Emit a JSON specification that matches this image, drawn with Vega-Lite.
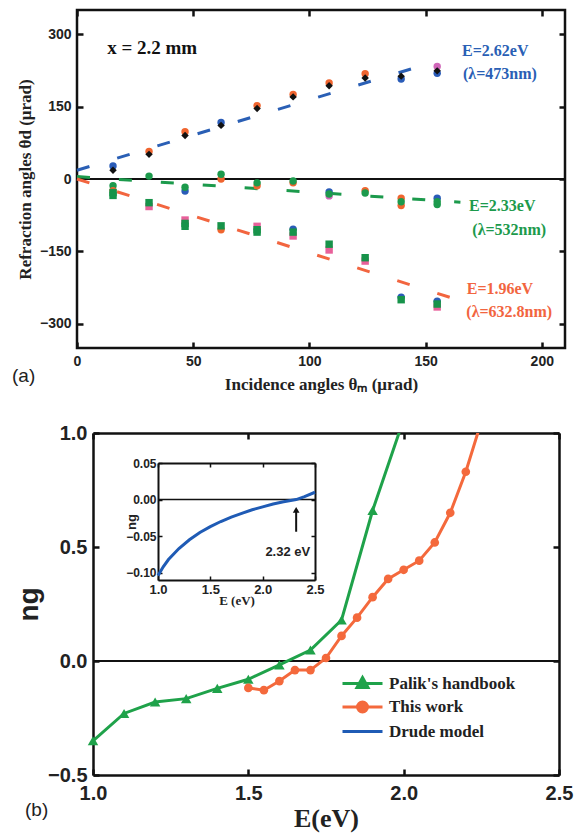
{
  "$schema": "https://vega.github.io/schema/vega-lite/v6.json",
  "background": "white",
  "padding": {"left": 10, "top": 7, "right": 5, "bottom": 5},
  "spacing": 22,
  "resolve": {"scale": {"color": "independent", "shape": "independent"}},
  "config": {
    "view": {"stroke": "#111", "strokeWidth": 2.5},
    "axis": {
      "domain": false, "grid": false, "tickColor": "#111", "tickWidth": 2.5, "tickSize": -6,
      "labelFont": "Liberation Sans", "labelFontWeight": "bold", "labelColor": "#222", "labelFlush": false,
      "titleFont": "Liberation Serif", "titleFontWeight": "bold", "titleColor": "#222"
    },
    "text": {"font": "Liberation Serif", "fontWeight": "bold"}
  },
  "datasets": {
    "linesA": [
      {"series": "E=2.62eV", "x": 0, "y": 18}, {"series": "E=2.62eV", "x": 148, "y": 234},
      {"series": "E=2.33eV", "x": 0, "y": 5}, {"series": "E=2.33eV", "x": 165, "y": -48},
      {"series": "E=1.96eV", "x": 0, "y": 0}, {"series": "E=1.96eV", "x": 165, "y": -252}
    ],
    "labelsA": [
      {"x": 180, "y": 265, "label": "E=2.62eV", "series": "E=2.62eV"},
      {"x": 182, "y": 218, "label": "(λ=473nm)", "series": "E=2.62eV"},
      {"x": 183, "y": -55, "label": "E=2.33eV", "series": "E=2.33eV"},
      {"x": 186, "y": -105, "label": "(λ=532nm)", "series": "E=2.33eV"},
      {"x": 182, "y": -228, "label": "E=1.96eV", "series": "E=1.96eV"},
      {"x": 186, "y": -275, "label": "(λ=632.8nm)", "series": "E=1.96eV"}
    ],
    "pointsA": [
      {"x": 15.5, "y": 27, "kind": "o-blue"}, {"x": 15.5, "y": 18, "kind": "d-black"},
      {"x": 31, "y": 57, "kind": "o-orange"}, {"x": 31, "y": 51, "kind": "d-black"},
      {"x": 46.5, "y": 98, "kind": "o-orange"}, {"x": 46.5, "y": 90, "kind": "d-black"},
      {"x": 62, "y": 117, "kind": "o-blue"}, {"x": 62, "y": 111, "kind": "d-black"},
      {"x": 77.5, "y": 152, "kind": "o-orange"}, {"x": 77.5, "y": 146, "kind": "d-black"},
      {"x": 93, "y": 175, "kind": "o-orange"}, {"x": 93, "y": 170, "kind": "d-black"},
      {"x": 108.5, "y": 199, "kind": "o-orange"}, {"x": 108.5, "y": 193, "kind": "d-black"},
      {"x": 124, "y": 218, "kind": "o-orange"}, {"x": 124, "y": 209, "kind": "d-black"},
      {"x": 139.5, "y": 207, "kind": "o-blue"}, {"x": 139.5, "y": 213, "kind": "d-black"},
      {"x": 155, "y": 233, "kind": "o-pink"}, {"x": 155, "y": 219, "kind": "o-blue"}, {"x": 155, "y": 224, "kind": "d-black"},
      {"x": 15.5, "y": -14, "kind": "o-green"},
      {"x": 31, "y": 6, "kind": "o-green"},
      {"x": 46.5, "y": -25, "kind": "o-blue"}, {"x": 46.5, "y": -17, "kind": "o-green"},
      {"x": 62, "y": 0, "kind": "o-orange"}, {"x": 62, "y": 10, "kind": "o-green"},
      {"x": 77.5, "y": -14, "kind": "o-orange"}, {"x": 77.5, "y": -8, "kind": "o-green"},
      {"x": 93, "y": -8, "kind": "o-orange"}, {"x": 93, "y": -4, "kind": "o-green"},
      {"x": 108.5, "y": -35, "kind": "o-pink"}, {"x": 108.5, "y": -27, "kind": "o-blue"}, {"x": 108.5, "y": -31, "kind": "o-green"},
      {"x": 124, "y": -24, "kind": "o-orange"}, {"x": 124, "y": -29, "kind": "o-green"},
      {"x": 139.5, "y": -55, "kind": "o-orange"}, {"x": 139.5, "y": -40, "kind": "o-orange"}, {"x": 139.5, "y": -47, "kind": "o-green"},
      {"x": 155, "y": -40, "kind": "o-blue"}, {"x": 155, "y": -53, "kind": "o-green"}, {"x": 155, "y": -47, "kind": "o-green"},
      {"x": 15.5, "y": -24, "kind": "o-orange"}, {"x": 15.5, "y": -28, "kind": "s-green"}, {"x": 15.5, "y": -34, "kind": "s-green"},
      {"x": 31, "y": -57, "kind": "s-pink"}, {"x": 31, "y": -49, "kind": "s-green"},
      {"x": 46.5, "y": -85, "kind": "s-pink"}, {"x": 46.5, "y": -92, "kind": "s-green"}, {"x": 46.5, "y": -98, "kind": "s-green"},
      {"x": 62, "y": -105, "kind": "o-orange"}, {"x": 62, "y": -97, "kind": "s-green"},
      {"x": 77.5, "y": -98, "kind": "s-pink"}, {"x": 77.5, "y": -105, "kind": "s-green"}, {"x": 77.5, "y": -110, "kind": "s-green"},
      {"x": 93, "y": -118, "kind": "s-pink"}, {"x": 93, "y": -104, "kind": "o-blue"}, {"x": 93, "y": -110, "kind": "s-green"},
      {"x": 108.5, "y": -147, "kind": "s-pink"}, {"x": 108.5, "y": -135, "kind": "s-green"},
      {"x": 124, "y": -170, "kind": "s-pink"}, {"x": 124, "y": -163, "kind": "s-green"},
      {"x": 139.5, "y": -245, "kind": "o-blue"}, {"x": 139.5, "y": -250, "kind": "s-green"},
      {"x": 155, "y": -265, "kind": "s-pink"}, {"x": 155, "y": -253, "kind": "o-blue"}, {"x": 155, "y": -259, "kind": "s-green"}
    ],
    "ngData": [
      {"E": 1.0, "ng": -0.35, "src": "Palik's handbook"},
      {"E": 1.1, "ng": -0.23, "src": "Palik's handbook"},
      {"E": 1.2, "ng": -0.18, "src": "Palik's handbook"},
      {"E": 1.3, "ng": -0.165, "src": "Palik's handbook"},
      {"E": 1.4, "ng": -0.12, "src": "Palik's handbook"},
      {"E": 1.5, "ng": -0.08, "src": "Palik's handbook"},
      {"E": 1.6, "ng": -0.017, "src": "Palik's handbook"},
      {"E": 1.7, "ng": 0.048, "src": "Palik's handbook"},
      {"E": 1.8, "ng": 0.18, "src": "Palik's handbook"},
      {"E": 1.9, "ng": 0.66, "src": "Palik's handbook"},
      {"E": 2.0, "ng": 1.06, "src": "Palik's handbook"},
      {"E": 1.5, "ng": -0.118, "src": "This work"},
      {"E": 1.55, "ng": -0.128, "src": "This work"},
      {"E": 1.6, "ng": -0.088, "src": "This work"},
      {"E": 1.65, "ng": -0.04, "src": "This work"},
      {"E": 1.7, "ng": -0.04, "src": "This work"},
      {"E": 1.75, "ng": 0.013, "src": "This work"},
      {"E": 1.8, "ng": 0.11, "src": "This work"},
      {"E": 1.85, "ng": 0.19, "src": "This work"},
      {"E": 1.9, "ng": 0.28, "src": "This work"},
      {"E": 1.95, "ng": 0.36, "src": "This work"},
      {"E": 2.0, "ng": 0.4, "src": "This work"},
      {"E": 2.05, "ng": 0.44, "src": "This work"},
      {"E": 2.1, "ng": 0.52, "src": "This work"},
      {"E": 2.15, "ng": 0.65, "src": "This work"},
      {"E": 2.2, "ng": 0.83, "src": "This work"},
      {"E": 2.25, "ng": 1.05, "src": "This work"}
    ],
    "drude": [
      {"E": 1.0, "ng": -0.104, "src": "Drude model"},
      {"E": 1.05, "ng": -0.092, "src": "Drude model"},
      {"E": 1.1, "ng": -0.082, "src": "Drude model"},
      {"E": 1.2, "ng": -0.067, "src": "Drude model"},
      {"E": 1.3, "ng": -0.055, "src": "Drude model"},
      {"E": 1.4, "ng": -0.045, "src": "Drude model"},
      {"E": 1.5, "ng": -0.037, "src": "Drude model"},
      {"E": 1.6, "ng": -0.030, "src": "Drude model"},
      {"E": 1.7, "ng": -0.024, "src": "Drude model"},
      {"E": 1.8, "ng": -0.019, "src": "Drude model"},
      {"E": 1.9, "ng": -0.014, "src": "Drude model"},
      {"E": 2.0, "ng": -0.010, "src": "Drude model"},
      {"E": 2.1, "ng": -0.006, "src": "Drude model"},
      {"E": 2.2, "ng": -0.003, "src": "Drude model"},
      {"E": 2.32, "ng": 0.0, "src": "Drude model"},
      {"E": 2.4, "ng": 0.004, "src": "Drude model"},
      {"E": 2.5, "ng": 0.010, "src": "Drude model"}
    ]
  },
  "vconcat": [
    {
      "width": 488,
      "height": 338,
      "title": {"text": "(a)", "orient": "bottom", "anchor": "start", "frame": "group", "dx": -65, "offset": -25, "font": "Liberation Sans", "fontWeight": "normal", "fontSize": 19, "color": "#222"},
      "resolve": {"axis": {"x": "independent", "y": "independent"}},
      "layer": [
        {
          "data": {"values": [{}]},
          "mark": {"type": "rule", "color": "#111", "strokeWidth": 2},
          "encoding": {"y": {"datum": 0, "type": "quantitative", "axis": null, "scale": {"domain": [-350, 350], "nice": false}}}
        },
        {
          "data": {"name": "linesA"},
          "mark": {"type": "line", "strokeWidth": 3, "strokeDash": [13, 29]},
          "encoding": {
            "x": {"field": "x", "type": "quantitative", "axis": null, "scale": {"domain": [0, 210], "nice": false}},
            "y": {"field": "y", "type": "quantitative", "axis": null, "scale": {"domain": [-350, 350], "nice": false}},
            "detail": {"field": "series"},
            "color": {"field": "series", "type": "nominal", "legend": null,
              "scale": {"domain": ["E=2.62eV", "E=2.33eV", "E=1.96eV", "o-orange", "o-blue", "o-green", "o-pink", "s-green", "s-pink", "d-black"],
                        "range": ["#2a5fb5", "#1c9a4c", "#f2653f", "#f0652f", "#2a5cb8", "#1c9a4c", "#d066b8", "#17934a", "#e8609a", "#111111"]}}
          }
        },
        {
          "data": {"name": "pointsA"},
          "mark": {"type": "point", "filled": true, "opacity": 1, "size": 55},
          "encoding": {
            "x": {"field": "x", "type": "quantitative", "scale": {"domain": [0, 210], "nice": false},
              "axis": {"orient": "bottom", "values": [0, 50, 100, 150, 200], "labelFontSize": 14, "labelPadding": 12,
                       "title": "Incidence angles θₘ (μrad)", "titleFontSize": 17, "titlePadding": 8}},
            "y": {"field": "y", "type": "quantitative", "scale": {"domain": [-350, 350], "nice": false},
              "axis": {"orient": "left", "values": [-300, -150, 0, 150, 300], "labelFontSize": 14, "labelPadding": 12,
                       "title": "Refraction angles θd (μrad)", "titleFontSize": 17, "titlePadding": 5}},
            "color": {"field": "kind", "type": "nominal", "legend": null,
              "scale": {"domain": ["E=2.62eV", "E=2.33eV", "E=1.96eV", "o-orange", "o-blue", "o-green", "o-pink", "s-green", "s-pink", "d-black"],
                        "range": ["#2a5fb5", "#1c9a4c", "#f2653f", "#f0652f", "#2a5cb8", "#1c9a4c", "#d066b8", "#17934a", "#e8609a", "#111111"]}},
            "shape": {"field": "kind", "type": "nominal", "legend": null,
              "scale": {"domain": ["o-orange", "o-blue", "o-green", "o-pink", "s-green", "s-pink", "d-black"],
                        "range": ["circle", "circle", "circle", "circle", "square", "square", "diamond"]}}
          }
        },
        {
          "data": {"name": "labelsA"},
          "mark": {"type": "text", "fontSize": 16, "align": "center", "baseline": "middle"},
          "encoding": {
            "x": {"field": "x", "type": "quantitative", "axis": null, "scale": {"domain": [0, 210], "nice": false}},
            "y": {"field": "y", "type": "quantitative", "axis": null, "scale": {"domain": [-350, 350], "nice": false}},
            "text": {"field": "label"},
            "color": {"field": "series", "type": "nominal", "legend": null,
              "scale": {"domain": ["E=2.62eV", "E=2.33eV", "E=1.96eV", "o-orange", "o-blue", "o-green", "o-pink", "s-green", "s-pink", "d-black"],
                        "range": ["#2a5fb5", "#1c9a4c", "#f2653f", "#f0652f", "#2a5cb8", "#1c9a4c", "#d066b8", "#17934a", "#e8609a", "#111111"]}}
          }
        },
        {
          "data": {"values": [{}]},
          "mark": {"type": "text", "fontSize": 19, "align": "left", "baseline": "middle", "color": "#111"},
          "encoding": {
            "x": {"datum": 13, "type": "quantitative", "axis": null},
            "y": {"datum": 271, "type": "quantitative", "axis": null},
            "text": {"value": "x = 2.2 mm"}
          }
        },
        {
          "data": {"name": "pointsA"},
          "mark": {"type": "point", "opacity": 0},
          "encoding": {
            "x": {"field": "x", "type": "quantitative", "scale": {"domain": [0, 210], "nice": false},
              "axis": {"orient": "top", "values": [0, 50, 100, 150, 200], "labels": false, "title": null}},
            "y": {"field": "y", "type": "quantitative", "scale": {"domain": [-350, 350], "nice": false},
              "axis": {"orient": "right", "values": [-300, -150, 0, 150, 300], "labels": false, "title": null}}
          }
        }
      ]
    },
    {
      "width": 482,
      "height": 342,
      "view": {"stroke": null},
      "title": {"text": "(b)", "orient": "bottom", "anchor": "start", "frame": "group", "dx": -52, "offset": -30, "font": "Liberation Sans", "fontWeight": "normal", "fontSize": 19, "color": "#222"},
      "resolve": {"scale": {"x": "independent", "y": "independent"}},
      "layer": [
        {
          "resolve": {"axis": {"x": "independent", "y": "independent"}},
          "layer": [
            {
              "data": {"values": [{}]},
              "mark": {"type": "rule", "color": "#111", "strokeWidth": 2},
              "encoding": {
                "x": {"datum": 1, "type": "quantitative", "axis": null, "scale": {"domain": [1, 2.5], "range": [16, 482], "nice": false}},
                "x2": {"datum": 2.5},
                "y": {"datum": 0, "type": "quantitative", "axis": null, "scale": {"domain": [-0.5, 1.0], "nice": false}}
              }
            },
            {
              "data": {"name": "ngData"},
              "mark": {"type": "line", "strokeWidth": 3, "clip": true},
              "encoding": {
                "x": {"field": "E", "type": "quantitative", "scale": {"domain": [1, 2.5], "range": [16, 482], "nice": false},
                  "axis": {"orient": "bottom", "values": [1, 1.5, 2, 2.5], "format": ".1f", "labelFontSize": 20, "labelPadding": 14,
                           "domain": true, "domainColor": "#111", "domainWidth": 2.5,
                           "title": "E(eV)", "titleFontSize": 26, "titlePadding": 2}},
                "y": {"field": "ng", "type": "quantitative", "scale": {"domain": [-0.5, 1.0], "nice": false},
                  "axis": {"orient": "left", "offset": -16, "values": [-0.5, 0, 0.5, 1.0], "format": ".1f", "labelFontSize": 20, "labelPadding": 12,
                           "domain": true, "domainColor": "#111", "domainWidth": 2.5,
                           "title": "ng", "titleFont": "Liberation Sans", "titleFontSize": 28, "titlePadding": 4}},
                "detail": {"field": "src"},
                "color": {"field": "src", "type": "nominal",
                  "scale": {"domain": ["Palik's handbook", "This work", "Drude model"], "range": ["#1fa24a", "#f4693c", "#1f5bb5"]},
                  "legend": {
                    "orient": "none", "legendX": 274, "legendY": 239, "title": null,
                    "symbolSize": 400, "symbolStrokeWidth": 3,
                    "labelFont": "Liberation Serif", "labelFontWeight": "bold", "labelFontSize": 17, "labelColor": "#222",
                    "labelOffset": 15, "rowPadding": 1.5,
                    "encode": {
                      "symbols": {"update": {
                        "shape": {"signal": "datum.value === 'Drude model' ? 'M-2,0H2' : datum.value === 'This work' ? 'M-2,0H2M0.5,0A0.5,0.5,0,1,1,-0.5,0A0.5,0.5,0,1,1,0.5,0Z' : 'M-2,0H2M0,-0.6L0.55,0.4L-0.55,0.4Z'"},
                        "fill": {"signal": "datum.value === 'This work' ? '#f4693c' : datum.value === 'Drude model' ? 'transparent' : '#1fa24a'"}
                      }}
                    }
                  }}
              }
            },
            {
              "data": {"name": "ngData"},
              "mark": {"type": "point", "filled": true, "opacity": 1, "clip": true},
              "encoding": {
                "x": {"field": "E", "type": "quantitative", "axis": null, "scale": {"domain": [1, 2.5], "range": [16, 482], "nice": false}},
                "y": {"field": "ng", "type": "quantitative", "axis": null, "scale": {"domain": [-0.5, 1.0], "nice": false}},
                "color": {"field": "src", "type": "nominal", "legend": null,
                  "scale": {"domain": ["Palik's handbook", "This work", "Drude model"], "range": ["#1fa24a", "#f4693c", "#1f5bb5"]}},
                "shape": {"field": "src", "type": "nominal", "legend": null,
                  "scale": {"domain": ["Palik's handbook", "This work"], "range": ["triangle-up", "circle"]}},
                "size": {"field": "src", "type": "nominal", "legend": null,
                  "scale": {"domain": ["Palik's handbook", "This work"], "range": [110, 75]}}
              }
            },
            {
              "data": {"name": "ngData"},
              "mark": {"type": "point", "opacity": 0},
              "encoding": {
                "x": {"field": "E", "type": "quantitative", "scale": {"domain": [1, 2.5], "range": [16, 482], "nice": false},
                  "axis": {"orient": "top", "values": [1, 1.5, 2, 2.5], "labels": false, "title": null, "domain": true, "domainColor": "#111", "domainWidth": 2.5}},
                "y": {"field": "ng", "type": "quantitative", "scale": {"domain": [-0.5, 1.0], "nice": false},
                  "axis": {"orient": "right", "values": [-0.5, 0, 0.5, 1.0], "labels": false, "title": null, "domain": true, "domainColor": "#111", "domainWidth": 2.5}}
              }
            }
          ]
        },
        {
          "resolve": {"axis": {"x": "independent", "y": "independent"}},
          "layer": [
            {
              "data": {"values": [{}]},
              "mark": {"type": "rule", "color": "#111", "strokeWidth": 1.5},
              "encoding": {
                "x": {"datum": 1, "type": "quantitative", "axis": null, "scale": {"domain": [1, 2.5], "range": [81, 238], "nice": false}},
                "x2": {"datum": 2.5},
                "y": {"datum": 0, "type": "quantitative", "axis": null, "scale": {"domain": [-0.11, 0.05], "range": [147, 30], "nice": false}}
              }
            },
            {
              "data": {"name": "drude"},
              "mark": {"type": "line", "strokeWidth": 3},
              "encoding": {
                "x": {"field": "E", "type": "quantitative", "scale": {"domain": [1, 2.5], "range": [81, 238], "nice": false},
                  "axis": {"orient": "bottom", "offset": -195, "values": [1, 1.5, 2, 2.5], "format": ".1f", "domain": true, "domainColor": "#111", "domainWidth": 2,
                           "tickSize": -4, "tickWidth": 1.5, "labelFontSize": 13, "labelPadding": 7,
                           "title": "E (eV)", "titleFontSize": 13, "titlePadding": -2}},
                "y": {"field": "ng", "type": "quantitative", "scale": {"domain": [-0.11, 0.05], "range": [147, 30], "nice": false},
                  "axis": {"orient": "left", "offset": -81, "values": [-0.1, -0.05, 0, 0.05], "format": ".2f", "domain": true, "domainColor": "#111", "domainWidth": 2,
                           "tickSize": -4, "tickWidth": 1.5, "labelFontSize": 12, "labelPadding": 6,
                           "title": "ng", "titleFont": "Liberation Sans", "titleFontSize": 13, "titlePadding": -13}},
                "color": {"field": "src", "type": "nominal", "scale": {"domain": ["Palik's handbook", "This work", "Drude model"], "range": ["#1fa24a", "#f4693c", "#1f5bb5"]}}
              }
            },
            {
              "data": {"values": [{}]},
              "mark": {"type": "rule", "color": "#111", "strokeWidth": 2},
              "encoding": {
                "x": {"datum": 2.32, "type": "quantitative", "axis": null, "scale": {"domain": [1, 2.5], "range": [81, 238], "nice": false}},
                "y": {"datum": -0.044, "type": "quantitative", "axis": null, "scale": {"domain": [-0.11, 0.05], "range": [147, 30], "nice": false}},
                "y2": {"datum": -0.014}
              }
            },
            {
              "data": {"values": [{}]},
              "mark": {"type": "point", "shape": "triangle-up", "filled": true, "color": "#111", "size": 45, "opacity": 1},
              "encoding": {
                "x": {"datum": 2.32, "type": "quantitative", "axis": null, "scale": {"domain": [1, 2.5], "range": [81, 238], "nice": false}},
                "y": {"datum": -0.014, "type": "quantitative", "axis": null, "scale": {"domain": [-0.11, 0.05], "range": [147, 30], "nice": false}}
              }
            },
            {
              "data": {"values": [{}]},
              "mark": {"type": "text", "font": "Liberation Sans", "fontWeight": "bold", "fontSize": 13, "color": "#222", "align": "center", "baseline": "middle"},
              "encoding": {
                "x": {"datum": 2.24, "type": "quantitative", "axis": null, "scale": {"domain": [1, 2.5], "range": [81, 238], "nice": false}},
                "y": {"datum": -0.072, "type": "quantitative", "axis": null, "scale": {"domain": [-0.11, 0.05], "range": [147, 30], "nice": false}},
                "text": {"value": "2.32 eV"}
              }
            },
            {
              "data": {"name": "drude"},
              "mark": {"type": "point", "opacity": 0},
              "encoding": {
                "x": {"field": "E", "type": "quantitative", "scale": {"domain": [1, 2.5], "range": [81, 238], "nice": false},
                  "axis": {"orient": "top", "offset": -30, "values": [1, 1.5, 2, 2.5], "labels": false, "title": null, "domain": true, "domainColor": "#111", "domainWidth": 2, "tickSize": -4, "tickWidth": 1.5}},
                "y": {"field": "ng", "type": "quantitative", "scale": {"domain": [-0.11, 0.05], "range": [147, 30], "nice": false},
                  "axis": {"orient": "right", "offset": -244, "values": [-0.1, -0.05, 0, 0.05], "labels": false, "title": null, "domain": true, "domainColor": "#111", "domainWidth": 2, "tickSize": -4, "tickWidth": 1.5}}
              }
            }
          ]
        }
      ]
    }
  ]
}
